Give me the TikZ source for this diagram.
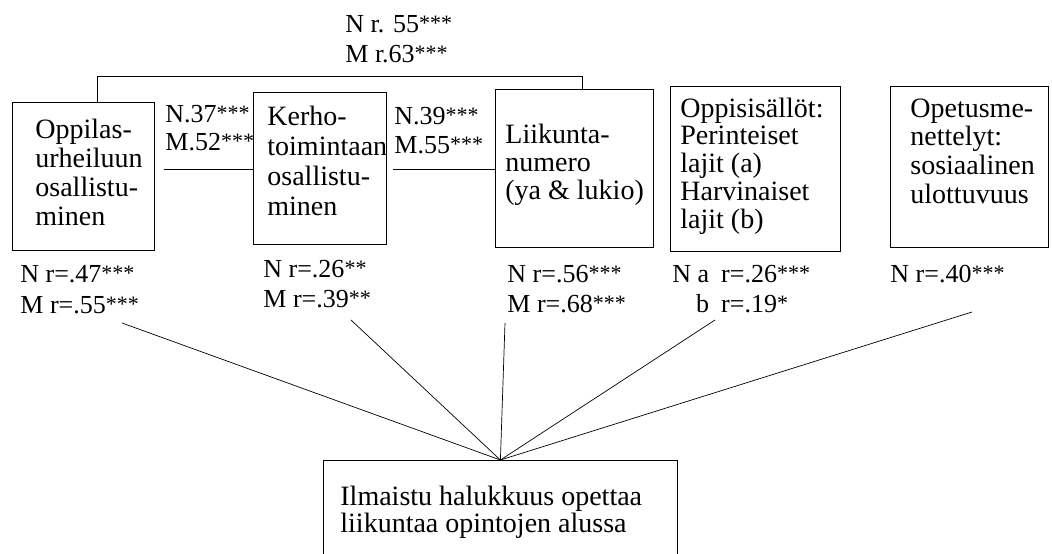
\documentclass[tikz,border=0pt]{standalone}
\usepackage{fontspec}
\setmainfont{Liberation Serif}
% multi-line text block; #1 = font size, #2 = line spacing, #3 = lines
\newcommand\lines[3]{{\fontsize{#1}{#2}\selectfont\begin{tabular}[t]{@{}l@{}}#3\end{tabular}}}
% significance stars, set small and raised
\newcommand\sig[1]{{\fontsize{22}{22}\selectfont\raisebox{1.5pt}{#1}}}
\begin{document}
\begin{tikzpicture}[x=1pt,y=-1pt,line width=0.8pt,
  box/.style={draw,inner sep=0pt,anchor=north west},
  txt/.style={inner sep=0pt,anchor=base west,font=\fontsize{26}{29}\selectfont},
  link/.style={line width=0.7pt}]
\useasboundingbox (0,0) rectangle (1052,554);
\clip (0,0) rectangle (1052,554);

% boxes
\node[box,minimum width=142pt,minimum height=148pt] (b1) at (12,102) {};
\node[box,minimum width=133pt,minimum height=152pt] (b2) at (253,92) {};
\node[box,minimum width=158pt,minimum height=158pt] (b3) at (495,89) {};
\node[box,minimum width=170pt,minimum height=165pt] (b4) at (670,86) {};
\node[box,minimum width=158pt,minimum height=161pt] (b5) at (890,86) {};
\node[box,minimum width=354pt,minimum height=120pt] (bot) at (323,460) {};

% box texts
\node[txt] (t1) at (35,138) {\lines{28}{29.3}{Oppilas-\\urheiluun\\osallistu-\\minen}};
\node[txt] (t2) at (267,125) {\lines{28}{30}{Kerho-\\toimintaan\\osallistu-\\minen}};
\node[txt] (t3) at (505,143) {\lines{28}{28}{Liikunta-\\numero\\(ya \& lukio)}};
\node[txt] (t4) at (680,117) {\lines{28}{27.8}{Oppisisällöt:\\Perinteiset\\lajit (a)\\Harvinaiset\\lajit (b)}};
\node[txt] (t5) at (910,117) {\lines{28}{28.7}{Opetusme-\\nettelyt:\\sosiaalinen\\ulottuvuus}};
\node[txt] (tb) at (340,505) {\lines{28}{27}{Ilmaistu halukkuus opettaa\\liikuntaa opintojen alussa}};

% correlations between predictors
\node[txt] (r13) at (345,32) {\lines{26}{30}{N r. 55\sig{***}\\M r.63\sig{***}}};
\node[txt] (r12) at (165,122) {\lines{26}{28}{N.37\sig{***}\\M.52\sig{***}}};
\node[txt] (r23) at (394,124) {\lines{26}{29}{N.39\sig{***}\\M.55\sig{***}}};

% correlations with the outcome
\node[txt] (c1) at (20,282) {\lines{26}{31}{N r=.47\sig{***}\\M r=.55\sig{***}}};
\node[txt] (c2) at (263,277) {\lines{26}{30}{N r=.26\sig{**}\\M r=.39\sig{**}}};
\node[txt] (c3) at (507,282) {\lines{26}{30}{N r=.56\sig{***}\\M r=.68\sig{***}}};
\node[txt] (c4) at (672,282) {\fontsize{26}{30}\selectfont
  \begin{tabular}[t]{@{}r@{\hspace{12pt}}l@{}}N a & r=.26\sig{***}\\ b & r=.19\sig{*}\end{tabular}};
\node[txt] (c5) at (890,282) {N r=.40\sig{***}};

% connectors between predictor boxes
\draw[link] ([xshift=14pt]b1.north) -- ++(0,-26) -| ([xshift=8pt]b3.north);
\draw[link] ([xshift=9pt,yshift=7pt]b1.east) -- ([yshift=7pt]b1.east -| b2.west);
\draw[link] ([xshift=6pt,yshift=-1pt]b2.east) -- ([yshift=-1pt]b2.east -| b3.west);

% fan of lines into the outcome box
\coordinate (f1) at (122,323);
\coordinate (f2) at (351,320);
\coordinate (f3) at (505,323);
\coordinate (f4) at (715,320);
\coordinate (f5) at (972,312);
\foreach \f in {f1,f2,f3,f4,f5} \draw[link] (\f) -- (bot.north);
\end{tikzpicture}
\end{document}
